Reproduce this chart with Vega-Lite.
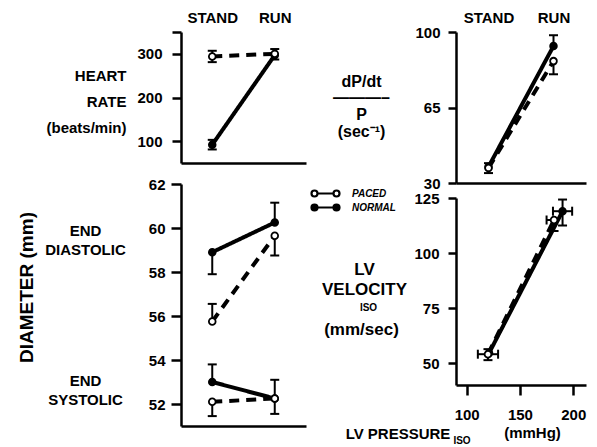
{
  "$schema": "https://vega.github.io/schema/vega-lite/v6.json",
  "padding": {"left": 17, "top": 10, "right": 5, "bottom": 5},
  "background": "white",
  "spacing": 15,
  "datasets": {
    "hr": [
      {"cond": "STAND", "group": "NORMAL", "v": 92},
      {"cond": "RUN", "group": "NORMAL", "v": 297},
      {"cond": "STAND", "group": "PACED", "v": 294},
      {"cond": "RUN", "group": "PACED", "v": 300}
    ],
    "hr_err": [
      {"cond": "STAND", "group": "PACED", "v": 294, "end": 281},
      {"cond": "STAND", "group": "PACED", "v": 294, "end": 307},
      {"cond": "RUN", "group": "PACED", "v": 300, "end": 287},
      {"cond": "RUN", "group": "PACED", "v": 300, "end": 311},
      {"cond": "STAND", "group": "NORMAL", "v": 92, "end": 81},
      {"cond": "STAND", "group": "NORMAL", "v": 92, "end": 103}
    ],
    "dia": [
      {"cond": "STAND", "group": "NORMAL", "phase": "EDD", "v": 58.9},
      {"cond": "RUN", "group": "NORMAL", "phase": "EDD", "v": 60.25},
      {"cond": "STAND", "group": "NORMAL", "phase": "ESD", "v": 53.0},
      {"cond": "RUN", "group": "NORMAL", "phase": "ESD", "v": 52.25},
      {"cond": "STAND", "group": "PACED", "phase": "EDD", "v": 55.75},
      {"cond": "RUN", "group": "PACED", "phase": "EDD", "v": 59.65},
      {"cond": "STAND", "group": "PACED", "phase": "ESD", "v": 52.1},
      {"cond": "RUN", "group": "PACED", "phase": "ESD", "v": 52.25}
    ],
    "dia_err": [
      {"cond": "STAND", "group": "NORMAL", "v": 58.9, "end": 57.9},
      {"cond": "RUN", "group": "NORMAL", "v": 60.25, "end": 61.15},
      {"cond": "STAND", "group": "PACED", "v": 55.75, "end": 56.55},
      {"cond": "RUN", "group": "PACED", "v": 59.65, "end": 58.75},
      {"cond": "STAND", "group": "NORMAL", "v": 53.0, "end": 53.8},
      {"cond": "RUN", "group": "NORMAL", "v": 52.25, "end": 53.1},
      {"cond": "RUN", "group": "NORMAL", "v": 52.25, "end": 51.55},
      {"cond": "STAND", "group": "PACED", "v": 52.1, "end": 51.45}
    ],
    "dp": [
      {"cond": "STAND", "group": "NORMAL", "v": 37.5},
      {"cond": "RUN", "group": "NORMAL", "v": 93.5},
      {"cond": "STAND", "group": "PACED", "v": 37.0},
      {"cond": "RUN", "group": "PACED", "v": 86.5}
    ],
    "dp_err": [
      {"cond": "STAND", "group": "PACED", "v": 37.0, "end": 39.2},
      {"cond": "STAND", "group": "PACED", "v": 37.0, "end": 34.6},
      {"cond": "RUN", "group": "NORMAL", "v": 93.5, "end": 98.5},
      {"cond": "RUN", "group": "PACED", "v": 86.5, "end": 80.4}
    ],
    "vel": [
      {"cond": "STAND", "group": "NORMAL", "p": 121, "v": 54.5},
      {"cond": "RUN", "group": "NORMAL", "p": 190, "v": 119},
      {"cond": "STAND", "group": "PACED", "p": 120, "v": 54},
      {"cond": "RUN", "group": "PACED", "p": 182, "v": 115}
    ],
    "vel_yerr": [
      {"cond": "STAND", "group": "PACED", "p": 120, "v": 54, "end": 56.3},
      {"cond": "STAND", "group": "PACED", "p": 120, "v": 54, "end": 51.3},
      {"cond": "RUN", "group": "NORMAL", "p": 190, "v": 119, "end": 124.3},
      {"cond": "RUN", "group": "NORMAL", "p": 190, "v": 119, "end": 112.5},
      {"cond": "RUN", "group": "PACED", "p": 182, "v": 115, "end": 110}
    ],
    "vel_xerr": [
      {"cond": "STAND", "group": "PACED", "p": 120, "v": 54, "end": 110.5},
      {"cond": "STAND", "group": "PACED", "p": 120, "v": 54, "end": 129.5},
      {"cond": "RUN", "group": "NORMAL", "p": 190, "v": 119, "end": 181},
      {"cond": "RUN", "group": "NORMAL", "p": 190, "v": 119, "end": 199},
      {"cond": "RUN", "group": "PACED", "p": 182, "v": 115, "end": 175}
    ]
  },
  "hconcat": [
    {
      "spacing": 21,
      "bounds": "flush",
      "vconcat": [
        {
          "width": 125,
          "height": 131,
          "layer": [
            {
              "data": {"name": "hr_err"},
              "mark": {"type": "rule", "color": "black", "strokeWidth": 2},
              "encoding": {
                "x": {"field": "cond", "type": "ordinal", "sort": ["STAND", "RUN"], "scale": {"type": "point", "padding": 0.5, "domain": ["STAND", "RUN"]},
                  "axis": {"orient": "top", "domain": false, "ticks": false, "tickSize": 0, "labelAngle": 0, "labelPadding": 10, "labelBaseline": "alphabetic", "title": null}},
                "y": {"field": "v", "type": "quantitative", "scale": {"domain": [50, 350], "nice": false, "zero": false},
                  "axis": {"orient": "left", "values": [100, 200, 300, 350], "labelExpr": "datum.value == 350 ? '' : datum.label", "tickSize": 9, "labelPadding": 10,
                    "title": ["HEART", "RATE", "(beats/min)"], "titleAngle": 0, "titleAlign": "right", "titleBaseline": "middle", "titleX": -55, "titleY": 43, "titleFontSize": 15, "titleLineHeight": 26}},
                "y2": {"field": "end"}
              }
            },
            {
              "data": {"name": "hr_err"},
              "mark": {"type": "tick", "orient": "horizontal", "color": "black", "size": 9, "thickness": 2, "opacity": 1},
              "encoding": {
                "x": {"field": "cond", "type": "ordinal", "sort": ["STAND", "RUN"], "axis": {"orient": "bottom", "labels": false, "ticks": false, "tickSize": 0, "domain": true, "title": null}},
                "y": {"field": "end", "type": "quantitative", "axis": null}
              }
            },
            {
              "data": {"name": "hr"},
              "mark": {"type": "line", "color": "black", "strokeWidth": 4},
              "encoding": {
                "x": {"field": "cond", "type": "ordinal", "sort": ["STAND", "RUN"], "axis": null},
                "y": {"field": "v", "type": "quantitative", "axis": null},
                "strokeDash": {"field": "group", "type": "nominal", "scale": {"domain": ["NORMAL", "PACED"], "range": [[1, 0], [10, 7]]}, "legend": null}
              }
            },
            {
              "data": {"name": "hr"},
              "mark": {"type": "point", "filled": true, "stroke": "black", "strokeWidth": 1.8, "size": 45, "opacity": 1},
              "encoding": {
                "x": {"field": "cond", "type": "ordinal", "sort": ["STAND", "RUN"], "axis": null},
                "y": {"field": "v", "type": "quantitative", "axis": null},
                "fill": {"field": "group", "type": "nominal", "scale": {"domain": ["PACED", "NORMAL"], "range": ["white", "black"]}}
              }
            }
          ],
          "resolve": {"axis": {"x": "independent", "y": "independent"}}
        },
        {
          "width": 125,
          "height": 242,
          "layer": [
            {
              "data": {"name": "dia_err"},
              "mark": {"type": "rule", "color": "black", "strokeWidth": 2},
              "encoding": {
                "x": {"field": "cond", "type": "ordinal", "sort": ["STAND", "RUN"], "scale": {"type": "point", "padding": 0.5, "domain": ["STAND", "RUN"]},
                  "axis": {"orient": "bottom", "labels": false, "ticks": false, "tickSize": 0, "domain": true, "title": null}},
                "y": {"field": "v", "type": "quantitative", "scale": {"domain": [51, 62], "nice": false, "zero": false},
                  "axis": {"orient": "left", "values": [52, 54, 56, 58, 60, 62], "tickSize": 10, "labelPadding": 6,
                    "title": "DIAMETER (mm)", "titleAngle": -90, "titleAlign": "center", "titleBaseline": "middle", "titleX": -155, "titleY": 103, "titleFontSize": 19}},
                "y2": {"field": "end"}
              }
            },
            {
              "data": {"name": "dia_err"},
              "mark": {"type": "tick", "orient": "horizontal", "color": "black", "size": 9, "thickness": 2, "opacity": 1},
              "encoding": {
                "x": {"field": "cond", "type": "ordinal", "sort": ["STAND", "RUN"], "axis": null},
                "y": {"field": "end", "type": "quantitative",
                  "axis": {"orient": "left", "labels": false, "ticks": false, "tickSize": 0, "domain": false,
                    "title": ["END", "DIASTOLIC"], "titleAngle": 0, "titleAlign": "center", "titleBaseline": "middle", "titleX": -96, "titleY": 46, "titleFontSize": 15, "titleLineHeight": 19}}
              }
            },
            {
              "data": {"name": "dia"},
              "mark": {"type": "line", "color": "black", "strokeWidth": 4},
              "encoding": {
                "x": {"field": "cond", "type": "ordinal", "sort": ["STAND", "RUN"], "axis": null},
                "y": {"field": "v", "type": "quantitative",
                  "axis": {"orient": "left", "labels": false, "ticks": false, "tickSize": 0, "domain": false,
                    "title": ["END", "SYSTOLIC"], "titleAngle": 0, "titleAlign": "center", "titleBaseline": "middle", "titleX": -96, "titleY": 196, "titleFontSize": 15, "titleLineHeight": 19}},
                "detail": {"field": "phase"},
                "strokeDash": {"field": "group", "type": "nominal", "scale": {"domain": ["NORMAL", "PACED"], "range": [[1, 0], [10, 7]]}, "legend": null}
              }
            },
            {
              "data": {"name": "dia"},
              "mark": {"type": "point", "filled": true, "stroke": "black", "strokeWidth": 1.8, "size": 45, "opacity": 1},
              "encoding": {
                "x": {"field": "cond", "type": "ordinal", "sort": ["STAND", "RUN"], "axis": null},
                "y": {"field": "v", "type": "quantitative", "axis": null},
                "fill": {"field": "group", "type": "nominal", "scale": {"domain": ["PACED", "NORMAL"], "range": ["white", "black"]},
                  "legend": {"orient": "none", "legendX": 138, "legendY": 155, "title": null, "padding": 0,
                    "symbolType": "M-2.8,0A0.6,0.6 0 1,0 -1.6,0A0.6,0.6 0 1,0 -2.8,0M-1.6,0L1.6,0M1.6,0A0.6,0.6 0 1,0 2.8,0A0.6,0.6 0 1,0 1.6,0",
                    "symbolSize": 100, "symbolStrokeColor": "black", "symbolStrokeWidth": 2.2, "symbolOpacity": 1,
                    "labelFont": "Liberation Sans", "labelFontSize": 10, "labelFontStyle": "italic", "labelFontWeight": "bold", "labelColor": "black",
                    "labelOffset": 20, "rowPadding": -3}}
              }
            }
          ],
          "resolve": {"axis": {"x": "independent", "y": "independent"}}
        }
      ]
    },
    {
      "spacing": 15,
      "bounds": "flush",
      "vconcat": [
        {
          "width": 130,
          "height": 151,
          "layer": [
            {
              "data": {"name": "dp_err"},
              "mark": {"type": "rule", "color": "black", "strokeWidth": 2},
              "encoding": {
                "x": {"field": "cond", "type": "ordinal", "sort": ["STAND", "RUN"], "scale": {"type": "point", "padding": 0.5, "domain": ["STAND", "RUN"]},
                  "axis": {"orient": "top", "domain": false, "ticks": false, "tickSize": 0, "labelAngle": 0, "labelPadding": 10, "labelBaseline": "alphabetic", "title": null}},
                "y": {"field": "v", "type": "quantitative", "scale": {"domain": [30, 100], "nice": false, "zero": false},
                  "axis": {"orient": "left", "values": [30, 65, 100], "tickSize": 8, "labelPadding": 8,
                    "title": ["dP/dt", "———–", "P", "(sec⁻¹)"], "titleAngle": 0, "titleAlign": "center", "titleBaseline": "middle", "titleX": -95, "titleY": 49, "titleFontSize": 16, "titleLineHeight": 16.7}},
                "y2": {"field": "end"}
              }
            },
            {
              "data": {"name": "dp_err"},
              "mark": {"type": "tick", "orient": "horizontal", "color": "black", "size": 9, "thickness": 2, "opacity": 1},
              "encoding": {
                "x": {"field": "cond", "type": "ordinal", "sort": ["STAND", "RUN"], "axis": {"orient": "bottom", "labels": false, "ticks": false, "tickSize": 0, "domain": true, "title": null}},
                "y": {"field": "end", "type": "quantitative", "axis": null}
              }
            },
            {
              "data": {"name": "dp"},
              "mark": {"type": "line", "color": "black", "strokeWidth": 4},
              "encoding": {
                "x": {"field": "cond", "type": "ordinal", "sort": ["STAND", "RUN"], "axis": null},
                "y": {"field": "v", "type": "quantitative", "axis": null},
                "strokeDash": {"field": "group", "type": "nominal", "scale": {"domain": ["NORMAL", "PACED"], "range": [[1, 0], [10, 7]]}, "legend": null}
              }
            },
            {
              "data": {"name": "dp"},
              "mark": {"type": "point", "filled": true, "stroke": "black", "strokeWidth": 1.8, "size": 45, "opacity": 1},
              "encoding": {
                "x": {"field": "cond", "type": "ordinal", "sort": ["STAND", "RUN"], "axis": null},
                "y": {"field": "v", "type": "quantitative", "axis": null},
                "fill": {"field": "group", "type": "nominal", "scale": {"domain": ["PACED", "NORMAL"], "range": ["white", "black"]}}
              }
            }
          ],
          "resolve": {"axis": {"x": "independent", "y": "independent"}}
        },
        {
          "width": 130,
          "height": 187,
          "layer": [
            {
              "data": {"name": "vel_yerr"},
              "mark": {"type": "rule", "color": "black", "strokeWidth": 2},
              "encoding": {
                "x": {"field": "p", "type": "quantitative", "scale": {"domain": [90, 212], "nice": false, "zero": false},
                  "axis": {"orient": "bottom", "values": [100, 150, 200], "tickSize": 10, "labelPadding": 12,
                    "title": "LV PRESSURE", "titleAngle": 0, "titleAlign": "center", "titleBaseline": "middle", "titleX": -58.5, "titleY": 48, "titleFontSize": 15}},
                "y": {"field": "v", "type": "quantitative", "scale": {"domain": [40, 125], "nice": false, "zero": false},
                  "axis": {"orient": "left", "values": [50, 75, 100, 125], "tickSize": 8, "labelPadding": 9,
                    "title": ["LV", "VELOCITY"], "titleAngle": 0, "titleAlign": "center", "titleBaseline": "middle", "titleX": -92, "titleY": 71, "titleFontSize": 17, "titleLineHeight": 20}},
                "y2": {"field": "end"}
              }
            },
            {
              "data": {"name": "vel_yerr"},
              "mark": {"type": "tick", "orient": "horizontal", "color": "black", "size": 9, "thickness": 2, "opacity": 1},
              "encoding": {
                "x": {"field": "p", "type": "quantitative",
                  "axis": {"orient": "bottom", "labels": false, "ticks": false, "tickSize": 0, "domain": false,
                    "title": "ISO", "titleFontSize": 10, "titleAngle": 0, "titleAlign": "center", "titleBaseline": "middle", "titleX": 5.5, "titleY": 55}},
                "y": {"field": "end", "type": "quantitative",
                  "axis": {"orient": "left", "labels": false, "ticks": false, "tickSize": 0, "domain": false,
                    "title": "ISO", "titleFontSize": 10, "titleAngle": 0, "titleAlign": "center", "titleBaseline": "middle", "titleX": -88, "titleY": 109}}
              }
            },
            {
              "data": {"name": "vel_xerr"},
              "mark": {"type": "rule", "color": "black", "strokeWidth": 2},
              "encoding": {
                "x": {"field": "p", "type": "quantitative",
                  "axis": {"orient": "bottom", "labels": false, "ticks": false, "tickSize": 0, "domain": false,
                    "title": "(mmHg)", "titleFontSize": 15, "titleAngle": 0, "titleAlign": "center", "titleBaseline": "middle", "titleX": 76, "titleY": 47}},
                "x2": {"field": "end"},
                "y": {"field": "v", "type": "quantitative",
                  "axis": {"orient": "left", "labels": false, "ticks": false, "tickSize": 0, "domain": false,
                    "title": "(mm/sec)", "titleFontSize": 17, "titleAngle": 0, "titleAlign": "center", "titleBaseline": "middle", "titleX": -95, "titleY": 131}}
              }
            },
            {
              "data": {"name": "vel_xerr"},
              "mark": {"type": "tick", "orient": "vertical", "color": "black", "size": 9, "thickness": 2, "opacity": 1},
              "encoding": {
                "x": {"field": "end", "type": "quantitative", "axis": null},
                "y": {"field": "v", "type": "quantitative", "axis": null}
              }
            },
            {
              "data": {"name": "vel"},
              "mark": {"type": "line", "color": "black", "strokeWidth": 4},
              "encoding": {
                "x": {"field": "p", "type": "quantitative", "axis": null},
                "y": {"field": "v", "type": "quantitative", "axis": null},
                "strokeDash": {"field": "group", "type": "nominal", "scale": {"domain": ["NORMAL", "PACED"], "range": [[1, 0], [10, 7]]}, "legend": null}
              }
            },
            {
              "data": {"name": "vel"},
              "mark": {"type": "point", "filled": true, "stroke": "black", "strokeWidth": 1.8, "size": 45, "opacity": 1},
              "encoding": {
                "x": {"field": "p", "type": "quantitative", "axis": null},
                "y": {"field": "v", "type": "quantitative", "axis": null},
                "fill": {"field": "group", "type": "nominal", "scale": {"domain": ["PACED", "NORMAL"], "range": ["white", "black"]}}
              }
            }
          ],
          "resolve": {"axis": {"x": "independent", "y": "independent"}}
        }
      ]
    }
  ],
  "config": {
    "view": {"stroke": null},
    "font": "Liberation Sans",
    "axis": {
      "labelFont": "Liberation Sans", "labelFontSize": 15, "labelFontWeight": "bold", "labelColor": "black",
      "labelFlush": false, "labelOverlap": false,
      "titleFont": "Liberation Sans", "titleFontWeight": "bold", "titleColor": "black", "titleFontSize": 15,
      "domainColor": "black", "domainWidth": 2.5, "tickColor": "black", "tickWidth": 2.5, "grid": false
    }
  }
}
